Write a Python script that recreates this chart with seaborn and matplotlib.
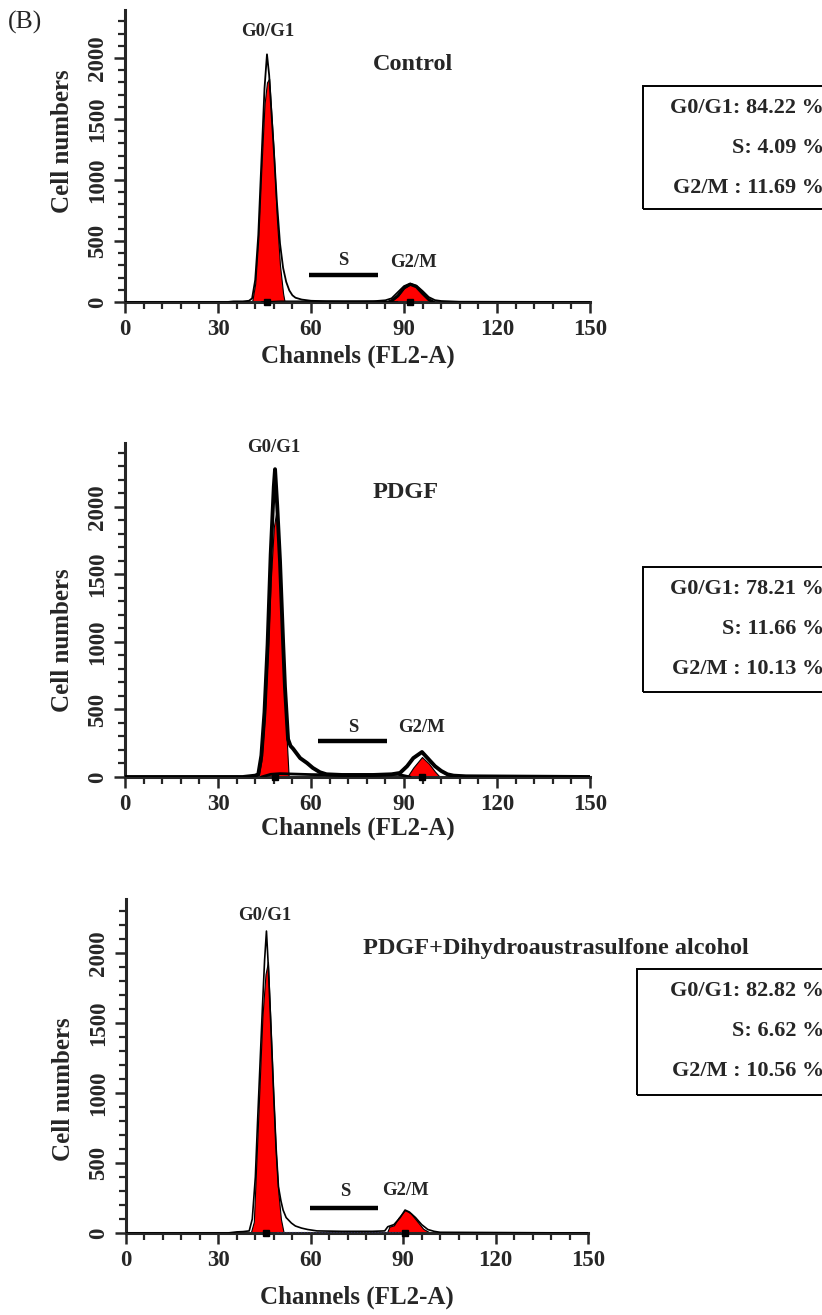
import matplotlib
matplotlib.use("Agg")
import matplotlib.pyplot as plt
from matplotlib.ticker import MultipleLocator
from matplotlib.patches import Rectangle
import seaborn as sns

# --- data ---
panel_titles = ["Control", "PDGF", "PDGF+Dihydroaustrasulfone alcohol"]
phase_names = ["G0/G1", "S", "G2/M"]
phase_pct = [[84.22, 4.09, 11.69], [78.21, 11.66, 10.13], [82.82, 6.62, 10.56]]

# control
ctrl_ch = [0, 33, 35, 38, 40, 41, 42, 43, 44, 45, 45.8, 46.5, 47, 48, 49, 50, 51, 52, 53, 54, 55, 57, 60, 65,
           70, 75, 80, 82, 84, 86, 88, 90, 92, 94, 96, 98, 100, 102, 105, 108, 150]
ctrl_counts = [0, 0, 5, 5, 10, 30, 180, 550, 1150, 1750, 2030, 1860, 1650, 1250, 820, 480, 280, 165, 95, 55,
               35, 20, 10, 6, 5, 5, 6, 10, 14, 30, 80, 130, 152, 135, 90, 40, 15, 8, 5, 2, 0]
ctrl_g1_ch = [41, 42, 43, 44, 45, 45.8, 46.5, 47, 48, 49, 50, 51, 51.5]
ctrl_g1 = [0, 150, 520, 1100, 1620, 1800, 1830, 1630, 1220, 680, 300, 70, 0]
ctrl_g2_ch = [85, 86, 88, 90, 92, 94, 96, 98, 99.5]
ctrl_g2 = [0, 10, 50, 115, 145, 125, 70, 20, 0]
ctrl_s_ch = [44, 50, 60, 70, 80, 88]
ctrl_s = [0, 8, 8, 8, 8, 0]

# PDGF
pdgf_ch = [0, 38, 40, 42, 43, 44, 45, 46, 47, 48, 48.4, 49.1, 50, 51, 51.6, 52.6, 53.4, 54.2, 56.5, 58.7, 60.6,
           62.9, 65, 70, 80, 86, 88.7, 91, 93, 95.8, 98, 100, 102, 104, 106, 110, 150]
pdgf_counts = [0, 0, 5, 10, 20, 160, 480, 980, 1650, 2150, 2280, 2010, 1600, 1000, 667, 280, 230, 210, 140, 104,
               67, 35, 20, 15, 15, 20, 30, 80, 140, 185, 130, 80, 45, 20, 10, 5, 0]
pdgf_g1_ch = [43, 44, 45, 46, 47, 48, 49, 50, 51, 52, 52.8]
pdgf_g1 = [0, 120, 420, 900, 1450, 1850, 1990, 1550, 950, 350, 0]
pdgf_g2_ch = [91, 93, 95.8, 98, 100, 101.6]
pdgf_g2 = [0, 70, 148, 100, 40, 0]
pdgf_s_ch = [44, 47, 50, 60, 70, 80, 88, 92]
pdgf_s = [0, 20, 25, 18, 15, 15, 20, 0]

# PDGF + dihydroaustrasulfone alcohol
da_ch = [0, 33, 36, 38, 40, 41, 42, 42.7, 43.5, 44.3, 45, 45.6, 46.1, 47, 47.9, 48.7, 49.5, 50.3, 51, 52, 53.7,
         55, 57, 59, 62, 70, 80, 84, 85, 87, 89, 90.6, 92, 94, 96, 98, 100, 102, 150]
da_counts = [0, 0, 8, 10, 15, 100, 400, 786, 1200, 1614, 1950, 2157, 1950, 1500, 1021, 620, 330, 230, 164, 110,
             71, 50, 35, 25, 15, 12, 12, 15, 45, 60, 110, 164, 150, 110, 60, 25, 12, 5, 0]
da_g1_ch = [40.5, 41.5, 42.7, 44.3, 45.3, 46.1, 47, 47.9, 48.7, 49.5, 50.3, 51.2]
da_g1 = [0, 80, 700, 1550, 1850, 1936, 1450, 950, 560, 280, 100, 0]
da_g2_ch = [84.7, 85.5, 87, 88.5, 90.6, 92.5, 94.5, 96.5, 98.9]
da_g2 = [0, 45, 55, 110, 164, 140, 85, 30, 0]
da_s_ch = [49, 60, 70, 80, 90]
da_s = [6, 6, 6, 6, 6]

hists = [(ctrl_ch, ctrl_counts), (pdgf_ch, pdgf_counts), (da_ch, da_counts)]
g1_fits = [(ctrl_g1_ch, ctrl_g1), (pdgf_g1_ch, pdgf_g1), (da_g1_ch, da_g1)]
g2_fits = [(ctrl_g2_ch, ctrl_g2), (pdgf_g2_ch, pdgf_g2), (da_g2_ch, da_g2)]
s_fits = [(ctrl_s_ch, ctrl_s), (pdgf_s_ch, pdgf_s), (da_s_ch, da_s)]
s_gates = [(59.4, 81.6, 221), (62.3, 84.5, 270), (59.6, 81.8, 178)]
peak_pos = [(45.8, 92), (48.4, 95.8), (45.6, 90.6)]
y_tops = [2393, 2474, 2386]

sns.set_style("ticks")
plt.rcParams["font.family"] = ["Liberation Serif", "DejaVu Serif"]
plt.rcParams["font.weight"] = "bold"
plt.rcParams["axes.labelweight"] = "bold"

W, H = 822, 1315
fig = plt.figure(figsize=(W / 100, H / 100), dpi=100)

# axes rectangles in pixels: left, axis-line y, width, height
ax_px = [(125, 302, 465, 292), (125, 777, 465, 334), (126, 1233, 462, 334)]
box_px = [(643, 86, 123), (643, 567, 125), (637, 969, 126)]
xlab_y = [-0.145, -0.118, -0.158]
ylab_y = [0.55, 0.41, 0.43]
line_w = [1.3, 2.8, 1.2]
title_pos = [(80, 1943), (80, 2111), (76.9, 2029)]
g1_lab = [(46.1, 2213), (48, 2444), (45, 2271)]
s_lab = [(70.3, 344), (73.5, 363), (71.3, 293)]
g2_lab = [(93.2, 320), (95.8, 363), (90.9, 307)]

for i in range(3):
    l, b, w, h = ax_px[i]
    ax = fig.add_axes([l / W, 1 - b / H, w / W, h / H])

    ax.fill_between(g1_fits[i][0], g1_fits[i][1], color="red", edgecolor="black", lw=0.8, zorder=2)
    ax.fill_between(g2_fits[i][0], g2_fits[i][1], color="red", edgecolor="black", lw=0.8, zorder=2)
    sns.lineplot(x=s_fits[i][0], y=s_fits[i][1], ax=ax, color="#333366" if i == 2 else "black",
                 lw=0.8 if i != 1 else 2, ls=":" if i == 2 else "-", zorder=3)
    sns.lineplot(x=hists[i][0], y=hists[i][1], ax=ax, color="black", lw=line_w[i], zorder=4)
    if i == 0:
        # thicker outline round the G2/M peak
        sns.lineplot(x=ctrl_g2_ch, y=ctrl_g2, ax=ax, color="black", lw=2.2, zorder=4)

    x0, x1, yb = s_gates[i]
    ax.plot([x0, x1], [yb, yb], color="black", lw=3.2, solid_capstyle="butt")
    ax.plot(peak_pos[i], [0, 0], ls="none", marker="s", ms=4, color="black", clip_on=False, zorder=6)

    ax.text(*title_pos[i], panel_titles[i], fontsize=17.5, ha="left", va="center")
    ax.text(*g1_lab[i], "G0/G1", fontsize=13.5, ha="center", va="center")
    ax.text(*s_lab[i], "S", fontsize=13.5, ha="center", va="center")
    ax.text(*g2_lab[i], "G2/M", fontsize=13.5, ha="center", va="center")

    ax.set_xlim(0, 150)
    ax.set_ylim(0, y_tops[i])
    ax.xaxis.set_major_locator(MultipleLocator(30))
    ax.xaxis.set_minor_locator(MultipleLocator(6))
    ax.yaxis.set_major_locator(MultipleLocator(500))
    ax.yaxis.set_minor_locator(MultipleLocator(100))
    ax.set_yticks([0, 500, 1000, 1500, 2000])
    ax.tick_params(which="major", length=8, width=1.8, labelsize=16.5, pad=4)
    ax.tick_params(which="minor", length=5, width=1.6)
    ax.tick_params(axis="y", labelrotation=90)
    for lab in ax.get_yticklabels():
        lab.set_va("center")
    for side in ["top", "right"]:
        ax.spines[side].set_visible(False)
    for side in ["left", "bottom"]:
        ax.spines[side].set_linewidth(2.2)

    ax.set_xlabel("Channels (FL2-A)", fontsize=18, fontweight="bold")
    ax.set_ylabel("Cell numbers", fontsize=18, fontweight="bold")
    ax.xaxis.set_label_coords(0.5, xlab_y[i])
    ax.yaxis.set_label_coords(-0.11, ylab_y[i])

    # percentage box, cut off by the right edge of the figure
    bx, by, bh = box_px[i]
    fig.patches.append(Rectangle((bx / W, 1 - (by + bh) / H), 0.3, bh / H, transform=fig.transFigure,
                                 fill=False, edgecolor="black", lw=1.4))
    box_lines = ["%s: %.2f %%" % (phase_names[0], phase_pct[i][0]),
                 "%s: %.2f %%" % (phase_names[1], phase_pct[i][1]),
                 "%s : %.2f %%" % (phase_names[2], phase_pct[i][2])]
    for k, txt in enumerate(box_lines):
        fig.text(824 / W, 1 - (by + 22 + 40 * k) / H, txt, fontsize=16, ha="right", va="center")

fig.text(8 / W, 1 - 22 / H, "(B)", fontsize=18.5, fontweight="normal", ha="left", va="center")

plt.savefig("out.png", dpi=100)
